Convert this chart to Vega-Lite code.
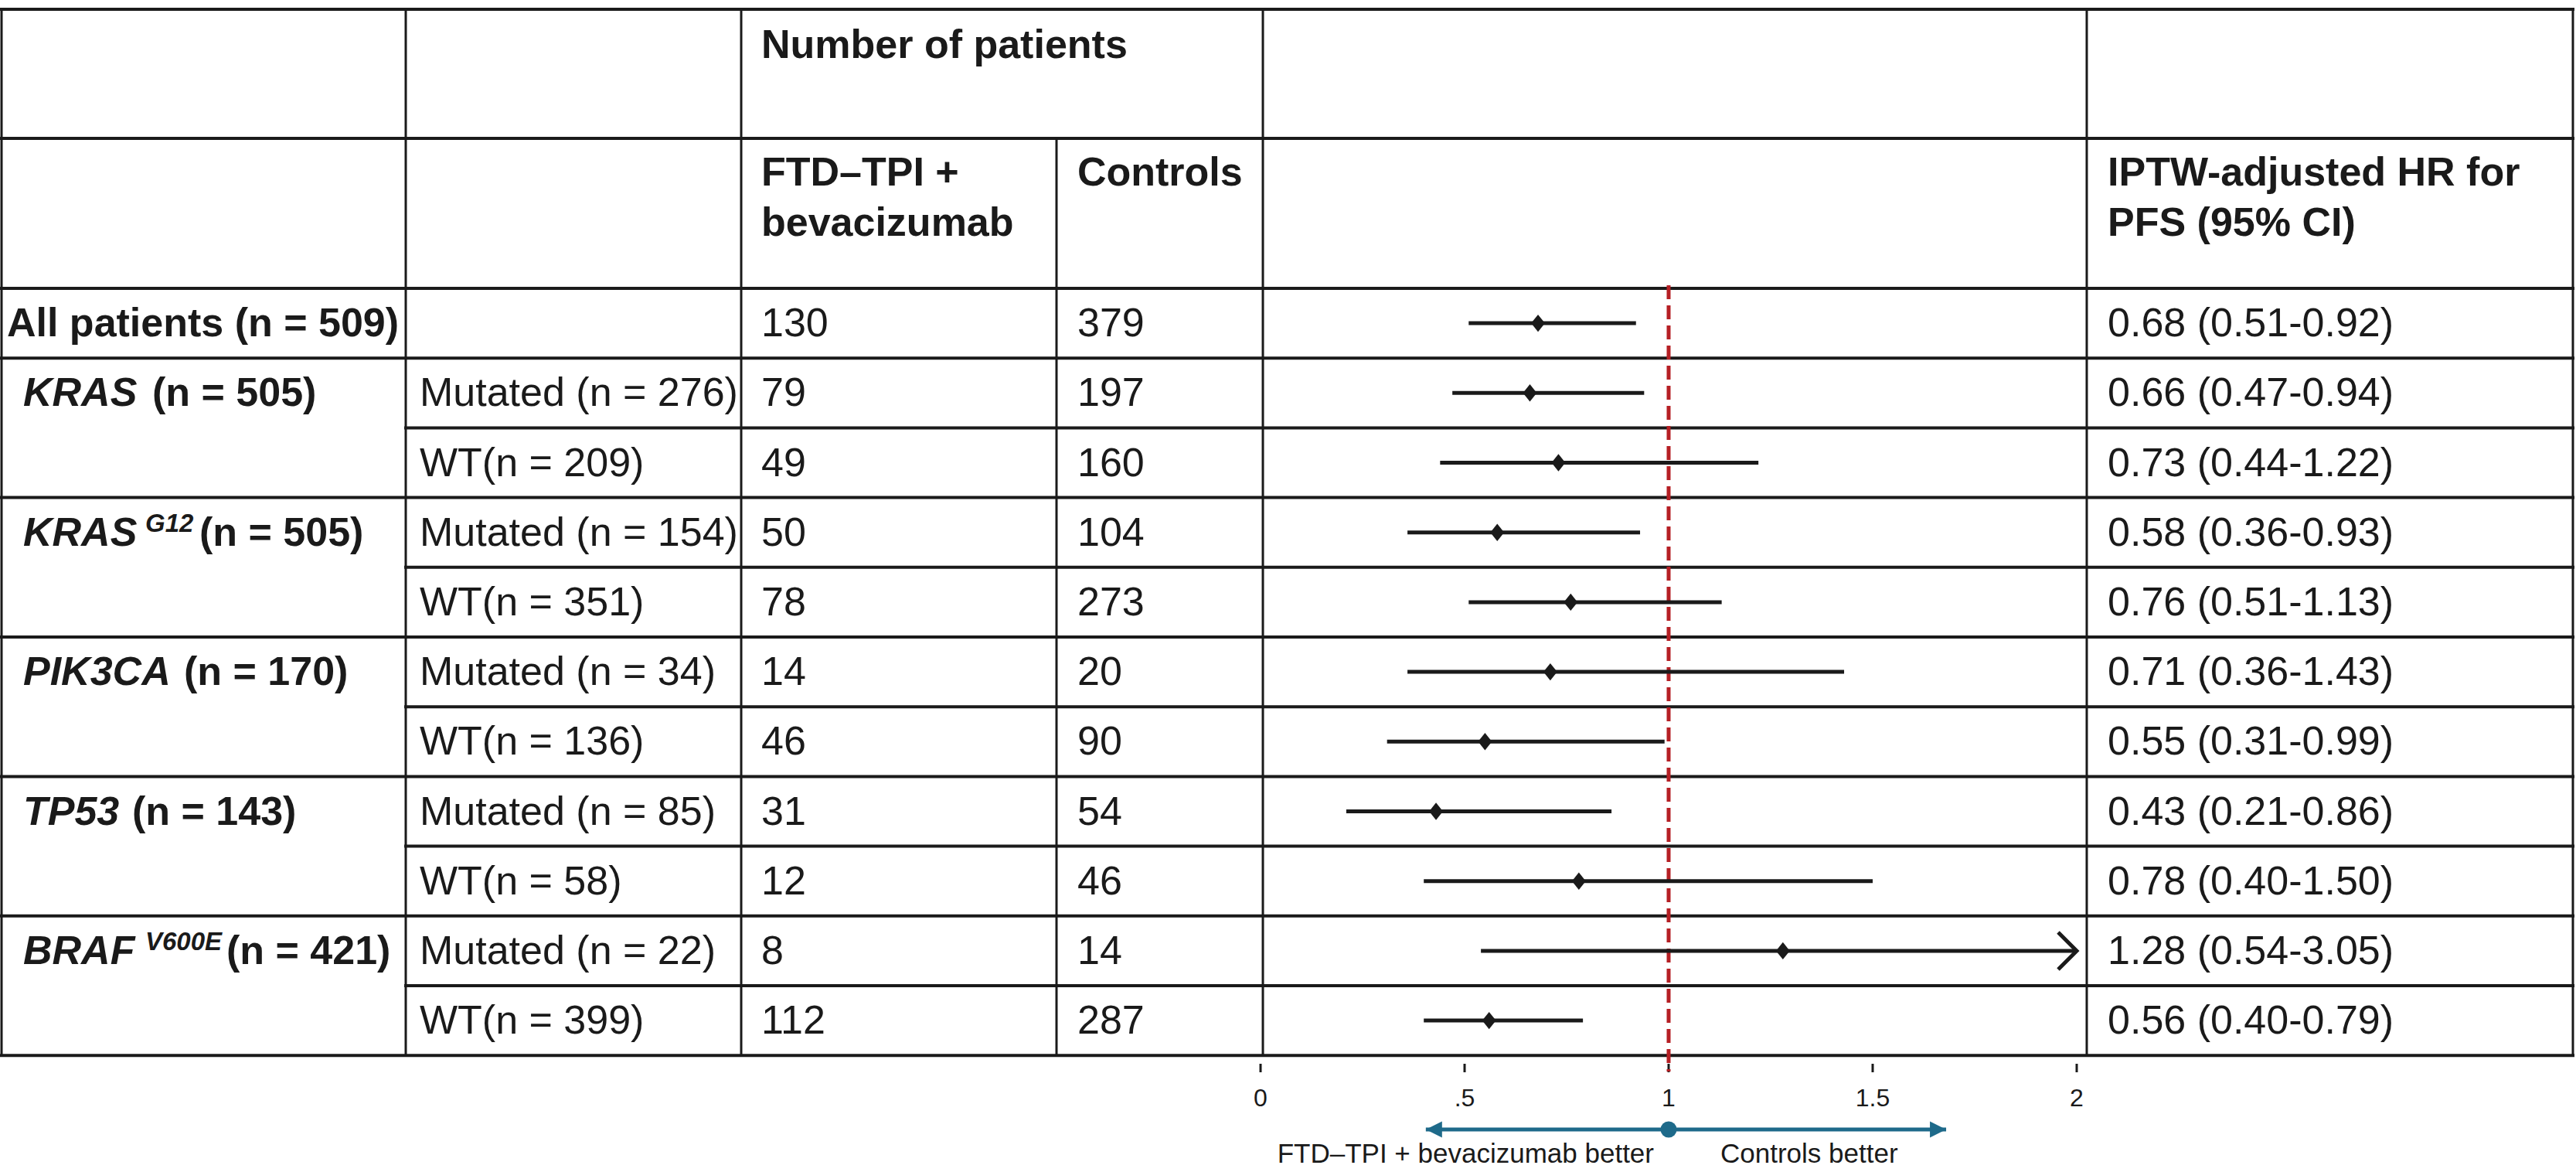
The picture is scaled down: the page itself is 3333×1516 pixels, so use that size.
{
  "$schema": "https://vega.github.io/schema/vega-lite/v6.json",
  "width": 3333,
  "height": 1516,
  "autosize": {"type": "none"},
  "padding": 0,
  "background": "#ffffff",
  "config": {"view": {"stroke": null}, "font": "Liberation Sans", "text": {"font": "Liberation Sans", "color": "#1a1a1a"}},
  "datasets": {
    "rows": [
      {"row": 0, "groupLabel": "All patients (n = 509)", "gene": "", "variant": "", "groupN": "", "sub": "", "trt": 130, "ctl": 379, "hr": 0.68, "lo": 0.51, "hi": 0.92, "ci": "0.68 (0.51-0.92)"},
      {"row": 1, "groupLabel": "", "gene": "KRAS", "variant": "", "groupN": "(n = 505)", "sub": "Mutated (n = 276)", "trt": 79, "ctl": 197, "hr": 0.66, "lo": 0.47, "hi": 0.94, "ci": "0.66 (0.47-0.94)"},
      {"row": 2, "groupLabel": "", "gene": "", "variant": "", "groupN": "", "sub": "WT(n = 209)", "trt": 49, "ctl": 160, "hr": 0.73, "lo": 0.44, "hi": 1.22, "ci": "0.73 (0.44-1.22)"},
      {"row": 3, "groupLabel": "", "gene": "KRAS", "variant": "G12", "groupN": "(n = 505)", "sub": "Mutated (n = 154)", "trt": 50, "ctl": 104, "hr": 0.58, "lo": 0.36, "hi": 0.93, "ci": "0.58 (0.36-0.93)"},
      {"row": 4, "groupLabel": "", "gene": "", "variant": "", "groupN": "", "sub": "WT(n = 351)", "trt": 78, "ctl": 273, "hr": 0.76, "lo": 0.51, "hi": 1.13, "ci": "0.76 (0.51-1.13)"},
      {"row": 5, "groupLabel": "", "gene": "PIK3CA", "variant": "", "groupN": "(n = 170)", "sub": "Mutated (n = 34)", "trt": 14, "ctl": 20, "hr": 0.71, "lo": 0.36, "hi": 1.43, "ci": "0.71 (0.36-1.43)"},
      {"row": 6, "groupLabel": "", "gene": "", "variant": "", "groupN": "", "sub": "WT(n = 136)", "trt": 46, "ctl": 90, "hr": 0.55, "lo": 0.31, "hi": 0.99, "ci": "0.55 (0.31-0.99)"},
      {"row": 7, "groupLabel": "", "gene": "TP53", "variant": "", "groupN": "(n = 143)", "sub": "Mutated (n = 85)", "trt": 31, "ctl": 54, "hr": 0.43, "lo": 0.21, "hi": 0.86, "ci": "0.43 (0.21-0.86)"},
      {"row": 8, "groupLabel": "", "gene": "", "variant": "", "groupN": "", "sub": "WT(n = 58)", "trt": 12, "ctl": 46, "hr": 0.78, "lo": 0.40, "hi": 1.50, "ci": "0.78 (0.40-1.50)"},
      {"row": 9, "groupLabel": "", "gene": "BRAF", "variant": "V600E", "groupN": "(n = 421)", "sub": "Mutated (n = 22)", "trt": 8, "ctl": 14, "hr": 1.28, "lo": 0.54, "hi": 3.05, "ci": "1.28 (0.54-3.05)"},
      {"row": 10, "groupLabel": "", "gene": "", "variant": "", "groupN": "", "sub": "WT(n = 399)", "trt": 112, "ctl": 287, "hr": 0.56, "lo": 0.40, "hi": 0.79, "ci": "0.56 (0.40-0.79)"}
    ],
    "arrows": [
      {"dir": "left", "tip": 0.405, "label": "FTD–TPI + bevacizumab better"},
      {"dir": "right", "tip": 1.68, "label": "Controls better"}
    ],
    "ticks": [
      {"v": 0, "label": "0"},
      {"v": 0.5, "label": ".5"},
      {"v": 1, "label": "1"},
      {"v": 1.5, "label": "1.5"},
      {"v": 2, "label": "2"}
    ]
  },
  "data": {"name": "rows"},
  "layer": [
    {
      "data": {"values": [{}]},
      "layer": [
        {"mark": {"type": "rule", "color": "#1a1a1a", "strokeWidth": 3}, "encoding": {"x": {"datum": -3.0852, "axis": null}, "y": {"datum": -4.5022, "axis": null}, "y2": {"datum": 10.5}}},
        {"mark": {"type": "rule", "color": "#1a1a1a", "strokeWidth": 3}, "encoding": {"x": {"datum": -2.0947, "axis": null}, "y": {"datum": -4.5022, "axis": null}, "y2": {"datum": 10.5}}},
        {"mark": {"type": "rule", "color": "#1a1a1a", "strokeWidth": 3}, "encoding": {"x": {"datum": -1.2727, "axis": null}, "y": {"datum": -4.5022, "axis": null}, "y2": {"datum": 10.5}}},
        {"mark": {"type": "rule", "color": "#1a1a1a", "strokeWidth": 3}, "encoding": {"x": {"datum": -0.5, "axis": null}, "y": {"datum": -2.6508, "axis": null}, "y2": {"datum": 10.5}}},
        {"mark": {"type": "rule", "color": "#1a1a1a", "strokeWidth": 3}, "encoding": {"x": {"datum": 0.0057, "axis": null}, "y": {"datum": -4.5022, "axis": null}, "y2": {"datum": 10.5}}},
        {"mark": {"type": "rule", "color": "#1a1a1a", "strokeWidth": 3}, "encoding": {"x": {"datum": 2.0246, "axis": null}, "y": {"datum": -4.5022, "axis": null}, "y2": {"datum": 10.5}}},
        {"mark": {"type": "rule", "color": "#1a1a1a", "strokeWidth": 3}, "encoding": {"x": {"datum": 3.2159, "axis": null}, "y": {"datum": -4.5022, "axis": null}, "y2": {"datum": 10.5}}},
        {"mark": {"type": "rule", "color": "#1a1a1a", "strokeWidth": 4, "strokeCap": "square"}, "encoding": {"x": {"datum": -3.0852, "axis": null}, "x2": {"datum": 3.2159}, "y": {"datum": -4.5022, "axis": null}}},
        {"mark": {"type": "rule", "color": "#1a1a1a", "strokeWidth": 4, "strokeCap": "square"}, "encoding": {"x": {"datum": -3.0852, "axis": null}, "x2": {"datum": 3.2159}, "y": {"datum": -2.6508, "axis": null}}},
        {"mark": {"type": "rule", "color": "#1a1a1a", "strokeWidth": 4, "strokeCap": "square"}, "encoding": {"x": {"datum": -3.0852, "axis": null}, "x2": {"datum": 3.2159}, "y": {"datum": -0.5, "axis": null}}}
      ]
    },
    {
      "transform": [{"filter": "indexof(datum.sub, 'Mutated') !== 0"}],
      "mark": {"type": "rule", "color": "#1a1a1a", "strokeWidth": 4, "strokeCap": "square", "yOffset": 45.1},
      "encoding": {"x": {"datum": -3.0852, "axis": null}, "x2": {"datum": 3.2159}, "y": {"field": "row", "type": "quantitative", "axis": null}}
    },
    {
      "transform": [{"filter": "indexof(datum.sub, 'Mutated') === 0"}],
      "mark": {"type": "rule", "color": "#1a1a1a", "strokeWidth": 4, "strokeCap": "square", "yOffset": 45.1},
      "encoding": {"x": {"datum": -2.0947, "axis": null}, "x2": {"datum": 3.2159}, "y": {"field": "row", "type": "quantitative", "axis": null}}
    },
    {
      "data": {"name": "ticks"},
      "mark": {"type": "rule", "color": "#1a1a1a", "strokeWidth": 3},
      "encoding": {"x": {"field": "v", "type": "quantitative", "axis": null}, "y": {"datum": 10.6197, "axis": null}, "y2": {"datum": 10.7417}}
    },
    {
      "data": {"name": "ticks"},
      "mark": {"type": "text", "align": "center", "baseline": "alphabetic", "fontSize": 32},
      "encoding": {"x": {"field": "v", "type": "quantitative", "axis": null}, "y": {"datum": 11.2295, "axis": null}, "text": {"field": "label", "type": "nominal"}}
    },
    {
      "data": {"values": [{}]},
      "mark": {"type": "rule", "color": "#b51f24", "strokeWidth": 5, "strokeDash": [18, 8]},
      "encoding": {"x": {"datum": 1, "axis": null}, "y": {"datum": -0.544, "axis": null}, "y2": {"datum": 10.73}}
    },
    {
      "transform": [{"filter": "datum.hi <= 2"}],
      "mark": {"type": "rule", "color": "#1a1a1a", "strokeWidth": 5},
      "encoding": {
        "x": {"field": "lo", "type": "quantitative", "scale": {"domain": [-3.089, 3.2235], "nice": false, "zero": false}, "axis": null},
        "x2": {"field": "hi"},
        "y": {"field": "row", "type": "quantitative", "scale": {"domain": [-4.6353, 12.1718], "reverse": true, "nice": false, "zero": false}, "axis": null}
      }
    },
    {
      "transform": [{"filter": "datum.hi > 2"}],
      "mark": {"type": "rule", "color": "#1a1a1a", "strokeWidth": 5},
      "encoding": {"x": {"field": "lo", "type": "quantitative", "axis": null}, "x2": {"datum": 2}, "y": {"field": "row", "type": "quantitative", "axis": null}}
    },
    {
      "transform": [{"filter": "datum.hi > 2"}],
      "mark": {"type": "point", "shape": "M-1,-1L0,0L-1,1", "filled": false, "color": "#1a1a1a", "strokeWidth": 5, "size": 2304, "opacity": 1, "strokeJoin": "miter"},
      "encoding": {"x": {"datum": 2, "axis": null}, "y": {"field": "row", "type": "quantitative", "axis": null}}
    },
    {
      "mark": {"type": "point", "shape": "M-0.8,0L0,-1L0.8,0L0,1Z", "filled": true, "color": "#1a1a1a", "size": 500, "opacity": 1},
      "encoding": {"x": {"field": "hr", "type": "quantitative", "axis": null}, "y": {"field": "row", "type": "quantitative", "axis": null}}
    },
    {
      "transform": [{"filter": "datum.row === 0"}],
      "mark": {"type": "text", "align": "left", "baseline": "alphabetic", "dy": 17, "fontSize": 52, "fontWeight": "bold"},
      "encoding": {"x": {"datum": -3.072, "axis": null}, "y": {"field": "row", "type": "quantitative", "axis": null}, "text": {"field": "groupLabel", "type": "nominal"}}
    },
    {
      "transform": [{"filter": "datum.gene !== ''"}],
      "mark": {"type": "text", "align": "left", "baseline": "alphabetic", "dy": 17, "fontSize": 52, "fontWeight": "bold", "fontStyle": "italic"},
      "encoding": {"x": {"datum": -3.0322, "axis": null}, "y": {"field": "row", "type": "quantitative", "axis": null}, "text": {"field": "gene", "type": "nominal"}}
    },
    {
      "transform": [{"filter": "datum.variant !== ''"}],
      "mark": {"type": "text", "align": "left", "baseline": "alphabetic", "dy": -1, "fontSize": 33, "fontWeight": "bold", "fontStyle": "italic"},
      "encoding": {"x": {"datum": -2.733, "axis": null}, "y": {"field": "row", "type": "quantitative", "axis": null}, "text": {"field": "variant", "type": "nominal"}}
    },
    {
      "transform": [{"filter": "datum.row === 1"}],
      "mark": {"type": "text", "align": "left", "baseline": "alphabetic", "dy": 17, "fontSize": 52, "fontWeight": "bold"},
      "encoding": {"x": {"datum": -2.7159, "axis": null}, "y": {"field": "row", "type": "quantitative", "axis": null}, "text": {"field": "groupN", "type": "nominal"}}
    },
    {
      "transform": [{"filter": "datum.row === 3"}],
      "mark": {"type": "text", "align": "left", "baseline": "alphabetic", "dy": 17, "fontSize": 52, "fontWeight": "bold"},
      "encoding": {"x": {"datum": -2.6004, "axis": null}, "y": {"field": "row", "type": "quantitative", "axis": null}, "text": {"field": "groupN", "type": "nominal"}}
    },
    {
      "transform": [{"filter": "datum.row === 5"}],
      "mark": {"type": "text", "align": "left", "baseline": "alphabetic", "dy": 17, "fontSize": 52, "fontWeight": "bold"},
      "encoding": {"x": {"datum": -2.6383, "axis": null}, "y": {"field": "row", "type": "quantitative", "axis": null}, "text": {"field": "groupN", "type": "nominal"}}
    },
    {
      "transform": [{"filter": "datum.row === 7"}],
      "mark": {"type": "text", "align": "left", "baseline": "alphabetic", "dy": 17, "fontSize": 52, "fontWeight": "bold"},
      "encoding": {"x": {"datum": -2.7652, "axis": null}, "y": {"field": "row", "type": "quantitative", "axis": null}, "text": {"field": "groupN", "type": "nominal"}}
    },
    {
      "transform": [{"filter": "datum.row === 9"}],
      "mark": {"type": "text", "align": "left", "baseline": "alphabetic", "dy": 17, "fontSize": 52, "fontWeight": "bold"},
      "encoding": {"x": {"datum": -2.5341, "axis": null}, "y": {"field": "row", "type": "quantitative", "axis": null}, "text": {"field": "groupN", "type": "nominal"}}
    },
    {
      "mark": {"type": "text", "align": "left", "baseline": "alphabetic", "dy": 17, "fontSize": 52},
      "encoding": {"x": {"datum": -2.0606, "axis": null}, "y": {"field": "row", "type": "quantitative", "axis": null}, "text": {"field": "sub", "type": "nominal"}}
    },
    {
      "mark": {"type": "text", "align": "left", "baseline": "alphabetic", "dy": 17, "fontSize": 52},
      "encoding": {"x": {"datum": -1.2235, "axis": null}, "y": {"field": "row", "type": "quantitative", "axis": null}, "text": {"field": "trt", "type": "nominal"}}
    },
    {
      "mark": {"type": "text", "align": "left", "baseline": "alphabetic", "dy": 17, "fontSize": 52},
      "encoding": {"x": {"datum": -0.4489, "axis": null}, "y": {"field": "row", "type": "quantitative", "axis": null}, "text": {"field": "ctl", "type": "nominal"}}
    },
    {
      "mark": {"type": "text", "align": "left", "baseline": "alphabetic", "dy": 17, "fontSize": 52},
      "encoding": {"x": {"datum": 2.0758, "axis": null}, "y": {"field": "row", "type": "quantitative", "axis": null}, "text": {"field": "ci", "type": "nominal"}}
    },
    {
      "data": {"values": [{"t": "Number of patients"}]},
      "mark": {"type": "text", "align": "left", "baseline": "alphabetic", "fontSize": 52, "fontWeight": "bold"},
      "encoding": {"x": {"datum": -1.2235, "axis": null}, "y": {"datum": -3.8038, "axis": null}, "text": {"field": "t", "type": "nominal"}}
    },
    {
      "data": {"values": [{"t": ["FTD–TPI +", "bevacizumab"]}]},
      "mark": {"type": "text", "align": "left", "baseline": "alphabetic", "fontSize": 52, "fontWeight": "bold", "lineHeight": 65},
      "encoding": {"x": {"datum": -1.2235, "axis": null}, "y": {"datum": -1.9745, "axis": null}, "text": {"field": "t", "type": "nominal"}}
    },
    {
      "data": {"values": [{"t": "Controls"}]},
      "mark": {"type": "text", "align": "left", "baseline": "alphabetic", "fontSize": 52, "fontWeight": "bold"},
      "encoding": {"x": {"datum": -0.4489, "axis": null}, "y": {"datum": -1.9745, "axis": null}, "text": {"field": "t", "type": "nominal"}}
    },
    {
      "data": {"values": [{"t": ["IPTW-adjusted HR for", "PFS (95% CI)"]}]},
      "mark": {"type": "text", "align": "left", "baseline": "alphabetic", "fontSize": 52, "fontWeight": "bold", "lineHeight": 65},
      "encoding": {"x": {"datum": 2.0758, "axis": null}, "y": {"datum": -1.9745, "axis": null}, "text": {"field": "t", "type": "nominal"}}
    },
    {
      "data": {"name": "arrows"},
      "mark": {"type": "rule", "color": "#1e6a8a", "strokeWidth": 5},
      "encoding": {"x": {"field": "tip", "type": "quantitative", "axis": null}, "x2": {"datum": 1}, "y": {"datum": 11.562, "axis": null}}
    },
    {
      "data": {"name": "arrows"},
      "mark": {"type": "point", "filled": true, "color": "#1e6a8a", "size": 441, "opacity": 1},
      "encoding": {
        "x": {"field": "tip", "type": "quantitative", "axis": null},
        "y": {"datum": 11.562, "axis": null},
        "shape": {"field": "dir", "type": "nominal", "scale": {"domain": ["left", "right"], "range": ["M0,0L2,-1L2,1Z", "M0,0L-2,-1L-2,1Z"]}, "legend": null}
      }
    },
    {
      "data": {"values": [{}]},
      "mark": {"type": "point", "shape": "circle", "filled": true, "color": "#1e6a8a", "size": 441, "opacity": 1},
      "encoding": {"x": {"datum": 1, "axis": null}, "y": {"datum": 11.562, "axis": null}}
    },
    {
      "data": {"name": "arrows"},
      "transform": [{"filter": "datum.dir === 'left'"}],
      "mark": {"type": "text", "align": "right", "baseline": "alphabetic", "fontSize": 35, "dx": -19},
      "encoding": {"x": {"datum": 1, "axis": null}, "y": {"datum": 12.039, "axis": null}, "text": {"field": "label", "type": "nominal"}}
    },
    {
      "data": {"name": "arrows"},
      "transform": [{"filter": "datum.dir === 'right'"}],
      "mark": {"type": "text", "align": "left", "baseline": "alphabetic", "fontSize": 35, "dx": 67},
      "encoding": {"x": {"datum": 1, "axis": null}, "y": {"datum": 12.039, "axis": null}, "text": {"field": "label", "type": "nominal"}}
    }
  ]
}
